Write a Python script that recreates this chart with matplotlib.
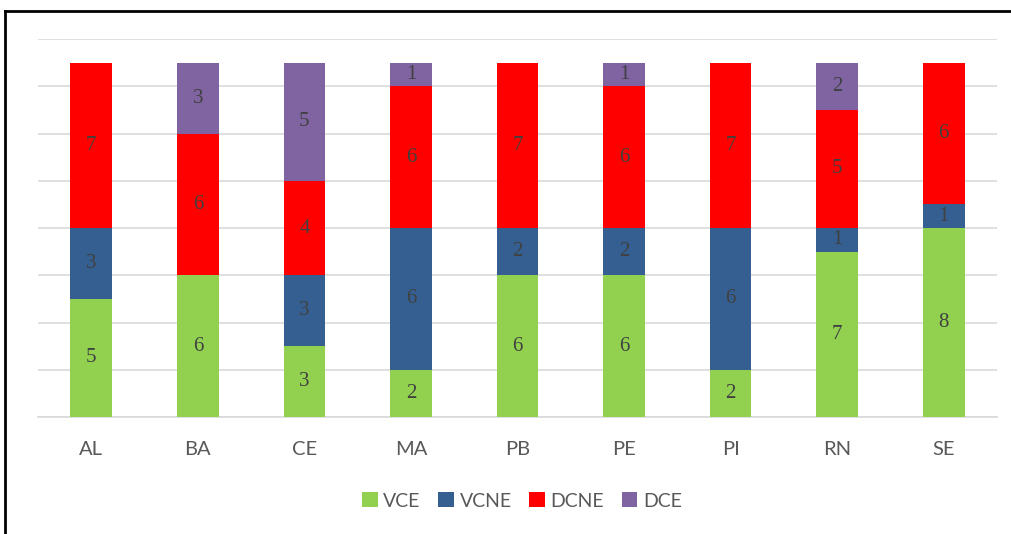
import matplotlib
matplotlib.use("Agg")
import matplotlib.pyplot as plt
import numpy as np
from matplotlib.lines import Line2D

categories = ["AL", "BA", "CE", "MA", "PB", "PE", "PI", "RN", "SE"]
VCE = [5, 6, 3, 2, 6, 6, 2, 7, 8]
VCNE = [3, 0, 3, 6, 2, 2, 6, 1, 1]
DCNE = [7, 6, 4, 6, 7, 6, 7, 5, 6]
DCE = [0, 3, 5, 1, 0, 1, 0, 2, 0]
series_names = ["VCE", "VCNE", "DCNE", "DCE"]
colors = ["#92D050", "#365F91", "#FF0000", "#8064A2"]

fig = plt.figure(figsize=(10.11, 5.34), dpi=100)
ax = fig.add_axes([38/1011, 1-417/534, (997-38)/1011, (417-39)/534])

x = np.arange(len(categories))
bottom = np.zeros(len(categories))
for name, vals, c in zip(series_names, [VCE, VCNE, DCNE, DCE], colors):
    vals = np.array(vals, dtype=float)
    bars = ax.bar(x, vals, 0.39, bottom=bottom, color=c, label=name, zorder=3)
    labels = [str(int(v)) if v > 0 else "" for v in vals]
    ax.bar_label(bars, labels=labels, label_type="center", fontsize=15,
                 color="#404040", family="Liberation Serif")
    bottom += vals

ax.set_xlim(-0.5, len(categories) - 0.5)
ax.set_ylim(0, 16)
ax.set_yticks(np.arange(0, 17, 2))
ax.yaxis.set_tick_params(length=0, labelleft=False)
ax.grid(axis="y", color="#D9D9D9", linewidth=1.2, zorder=0)
for s in ["top", "right", "left"]:
    ax.spines[s].set_visible(False)
ax.spines["bottom"].set_color("#D9D9D9")
ax.spines["bottom"].set_linewidth(1.2)
ax.set_xticks(x)
ax.set_xticklabels(categories, family="Lato", fontsize=14.5, color="#595959")
ax.tick_params(axis="x", length=0, pad=17)

leg = fig.legend(loc="center", bbox_to_anchor=(522/1011, 1-501/534), ncol=4,
                 frameon=False, prop={"family": "Lato", "size": 14},
                 handlelength=0.8, handleheight=0.8, handletextpad=0.3,
                 columnspacing=0.9)
for t in leg.get_texts():
    t.set_color("#595959")

# frame border (top and left)
fig.add_artist(Line2D([5/1011, 1.0], [1-10.5/534, 1-10.5/534], color="black",
                      linewidth=2, transform=fig.transFigure))
fig.add_artist(Line2D([5/1011, 5/1011], [0, 1-10.5/534], color="black",
                      linewidth=2, transform=fig.transFigure))

fig.savefig("out.png", dpi=100)
